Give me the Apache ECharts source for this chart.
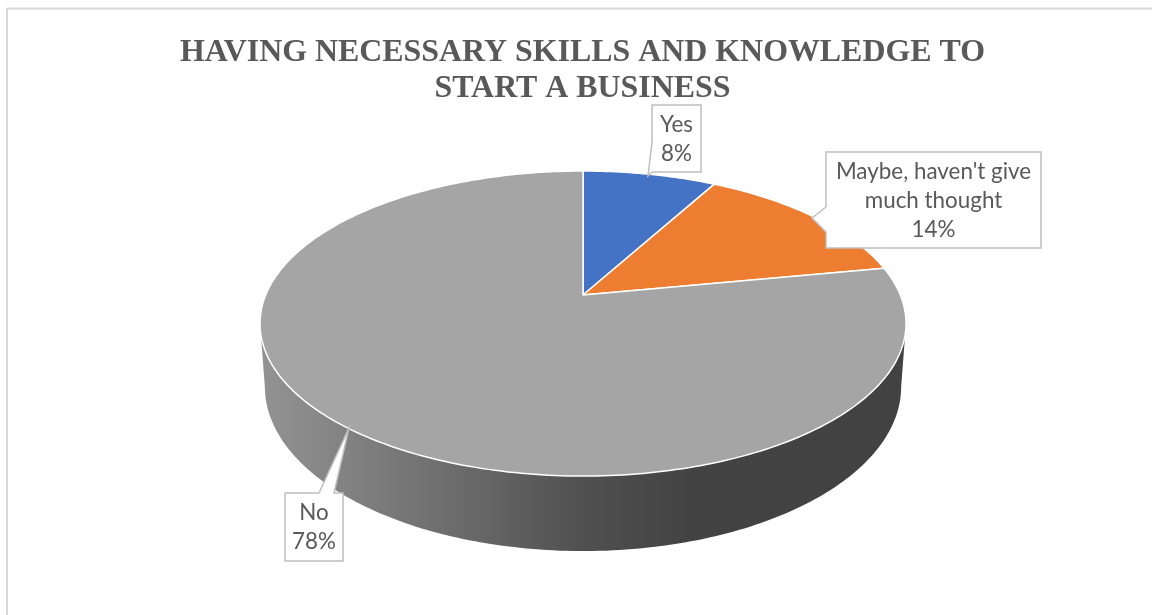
<!DOCTYPE html>
<html>
<head>
<meta charset="utf-8">
<style>html,body{margin:0;padding:0;background:#fff}#chart{width:1152px;height:615px}</style>
<script src="https://cdn.jsdelivr.net/npm/echarts@6/dist/echarts.min.js"></script>
</head>
<body>
<div id="chart"></div>
<script>
// Slice data
const categories = ['Yes', "Maybe, haven't give\nmuch thought", 'No'];
const shares = [8, 14, 78];
const sliceColors = ['#4472C4', '#ED7D31', '#A5A5A5'];
const titleText = 'HAVING NECESSARY SKILLS AND KNOWLEDGE TO\nSTART A BUSINESS';

// Perspective disc: apex position, horizontal/vertical radii, foreshortening, rim depth
const disc = { cx: 583, cy: 295, a: 317.3, b: 147.2, k: 0.187, depth: 61, rimScale: 0.985 };

// Callout outlines: box plus the wedge that points at the slice
const callouts = [
  { box: [652, 105, 49, 67], tip: [648, 176], base: [[652, 172], [652, 142]] },
  { box: [826, 152, 215, 96], tip: [812, 218], base: [[826, 232], [826, 207]] },
  { box: [285, 493, 58, 68], tip: [349, 428], base: [[319, 493], [334, 493]], topEdge: true }
];

const total = shares.reduce((s, v) => s + v, 0);
const toRad = (d) => d * Math.PI / 180;

// Angle is clockwise from twelve o'clock, on the disc's own plane.
function project(deg, r) {
  const t = toRad(deg);
  const rr = r === undefined ? 1 : r;
  const w = 1 + disc.k * rr * Math.cos(t);
  return [
    disc.cx + disc.a * rr * Math.sin(t) / w,
    disc.cy - disc.b * rr * Math.cos(t) / w
  ];
}

function projectRim(deg) {
  const t = toRad(deg);
  const w = 1 + disc.k * Math.cos(t);
  const p = project(deg);
  return [disc.cx + (p[0] - disc.cx) * disc.rimScale, p[1] + disc.depth / w];
}

function sweep(from, to, fn) {
  const pts = [];
  const n = Math.max(2, Math.ceil(Math.abs(to - from)));
  for (let i = 0; i <= n; i++) pts.push(fn(from + (to - from) * i / n));
  return pts;
}

// Visible front of the rim runs between the two horizontal tangents of the disc.
const frontFrom = 180 - Math.acos(disc.k) * 180 / Math.PI;
const frontTo = 360 - frontFrom;

function renderSlice(params, api) {
  const idx = params.dataIndex;
  let before = 0;
  for (let i = 0; i < idx; i++) before += shares[i];
  const start = before / total * 360;
  const end = (before + api.value(0)) / total * 360;
  const children = [];

  const wallFrom = Math.max(start, frontFrom);
  const wallTo = Math.min(end, frontTo);
  if (wallTo > wallFrom) {
    const top = sweep(wallFrom, wallTo, (d) => project(d));
    const rim = sweep(wallTo, wallFrom, projectRim);
    children.push({
      type: 'polygon',
      shape: { points: top.concat(rim) },
      style: {
        fill: new echarts.graphic.LinearGradient(0, 0, 1, 0, [
          { offset: 0, color: '#939393' },
          { offset: 0.14, color: '#818181' },
          { offset: 0.3, color: '#6c6c6c' },
          { offset: 0.5, color: '#505050' },
          { offset: 0.66, color: '#434343' },
          { offset: 1, color: '#424242' }
        ])
      }
    });
  }

  const arc = sweep(start, end, (d) => project(d));
  children.push({
    type: 'polygon',
    shape: { points: [[disc.cx, disc.cy]].concat(arc) },
    style: { fill: sliceColors[idx], stroke: '#FFFFFF', lineWidth: 1.5, lineJoin: 'round' }
  });
  return { type: 'group', children };
}

function renderCallout(params, api) {
  const idx = params.dataIndex;
  const c = callouts[idx];
  const [x, y, w, h] = c.box;
  const corners = [[x, y], [x + w, y], [x + w, y + h], [x, y + h]];
  const outline = c.topEdge
    ? [corners[0], c.base[0], c.tip, c.base[1], corners[1], corners[2], corners[3]]
    : [corners[0], corners[1], corners[2], corners[3], c.base[0], c.tip, c.base[1]];
  return {
    type: 'group',
    children: [
      {
        type: 'polygon',
        shape: { points: outline },
        style: { fill: '#FFFFFF', stroke: '#BFBFBF', lineWidth: 1.5, lineJoin: 'miter' }
      },
      {
        type: 'text',
        x: x + w / 2,
        y: y + h / 2 + 0.5,
        style: {
          text: categories[idx] + '\n' + api.value(0) + '%',
          fill: '#595959',
          font: '400 22.4px Lato',
          lineHeight: 29,
          align: 'center',
          verticalAlign: 'middle'
        }
      }
    ]
  };
}

const chart = echarts.init(document.getElementById('chart'), null, { renderer: 'canvas' });
chart.setOption({
  animation: false,
  backgroundColor: '#FFFFFF',
  title: {
    text: titleText,
    left: 577.5,
    top: 29.5,
    textAlign: 'center',
    textStyle: {
      fontFamily: 'Liberation Serif',
      fontWeight: 'bold',
      fontSize: 31.9,
      lineHeight: 36,
      color: '#595959'
    }
  },
  graphic: [
    { type: 'line', shape: { x1: 7, y1: 8.5, x2: 1152, y2: 8.5 }, style: { stroke: '#D9D9D9', lineWidth: 2 } },
    { type: 'line', shape: { x1: 7, y1: 8, x2: 7, y2: 615 }, style: { stroke: '#D9D9D9', lineWidth: 2 } }
  ],
  series: [
    {
      type: 'custom',
      coordinateSystem: 'none',
      renderItem: renderSlice,
      data: shares.map((v) => [v]),
      z: 2,
      silent: true
    },
    {
      type: 'custom',
      coordinateSystem: 'none',
      renderItem: renderCallout,
      data: shares.map((v) => [v]),
      z: 3,
      silent: true
    }
  ]
});
</script>
</body>
</html>
